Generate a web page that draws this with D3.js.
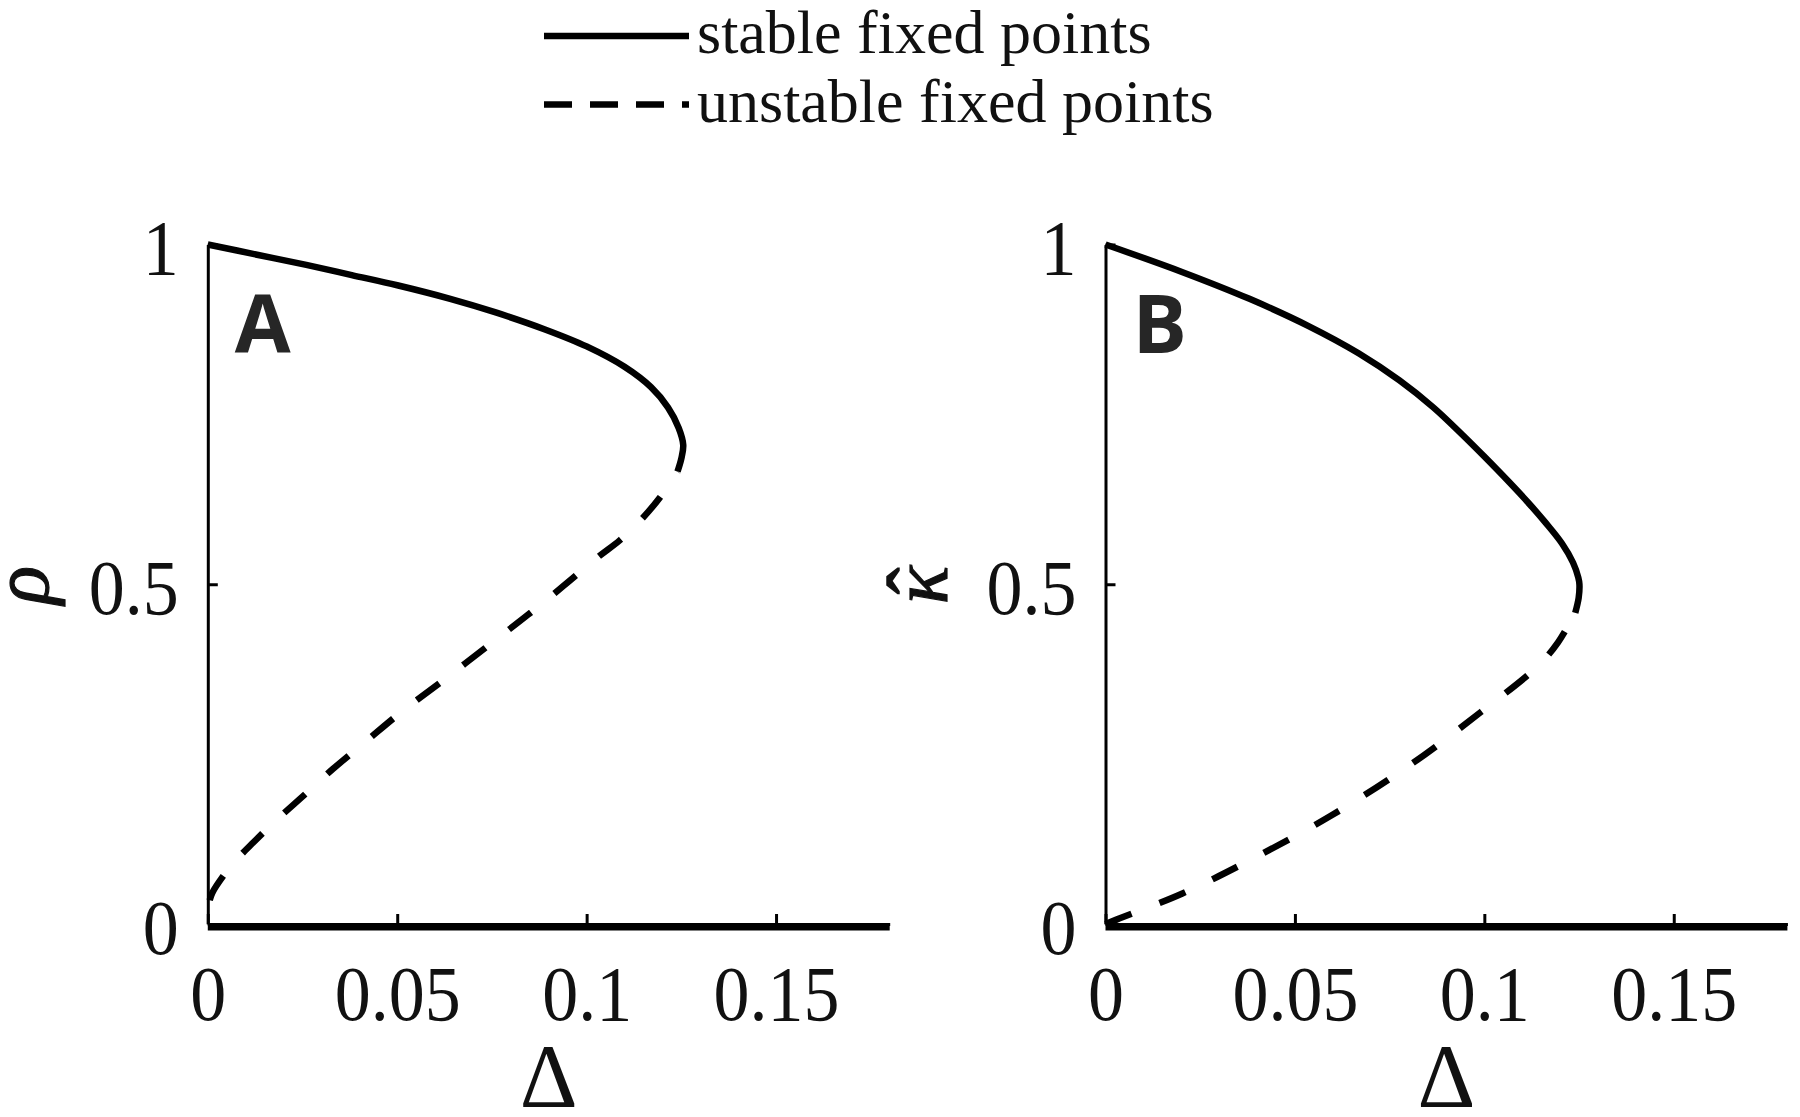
<!DOCTYPE html>
<html>
<head>
<meta charset="utf-8">
<script src="https://cdn.jsdelivr.net/npm/d3@7"></script>
<style>
  html, body { margin: 0; padding: 0; background: #fff; }
  svg { display: block; }
</style>
</head>
<body>
<svg id="chart" width="1800" height="1117"></svg>
<script>
// ---------------- DATA ----------------
const xTicks = [0, 0.05, 0.1, 0.15];
const xTickLabels = ["0", "0.05", "0.1", "0.15"];
const yTicks = [0, 0.5, 1];
const yTickLabels = ["0", "0.5", "1"];
const xDomain = [0, 0.18];
const yDomain = [0, 1];

const legendLabels = ["stable fixed points", "unstable fixed points"];
const panelLetters = ["A", "B"];
const yAxisLabels = ["\u03C1", "\u03BA"];
const yAxisHats = [null, "\u02C6"];
const xAxisLabel = "\u0394";

// Panel A : rho vs Delta
const stableA_delta = [0, 0.013, 0.026, 0.038, 0.050, 0.064, 0.076, 0.089, 0.100, 0.110, 0.117, 0.1215, 0.1243, 0.1255, 0.1250, 0.1240];
const stableA_rho   = [1, 0.985, 0.970, 0.955, 0.940, 0.920, 0.900, 0.875, 0.850, 0.820, 0.790, 0.760, 0.730, 0.705, 0.685, 0.666];
const unstableA_delta = [0.0005, 0.0012, 0.004, 0.0073, 0.012, 0.0179, 0.0255, 0.033, 0.042, 0.0512, 0.0625, 0.0750, 0.0845, 0.0940, 0.1030, 0.1088, 0.1147, 0.1194, 0.1240];
const unstableA_rho   = [0.035, 0.046, 0.070, 0.093, 0.120, 0.152, 0.190, 0.228, 0.270, 0.3125, 0.360, 0.414, 0.455, 0.498, 0.540, 0.565, 0.597, 0.628, 0.666];

// Panel B : kappa-hat vs Delta
const stableB_delta = [0, 0.020, 0.038, 0.0536, 0.0668, 0.0776, 0.0866, 0.0942, 0.0998, 0.1066, 0.1116, 0.1161, 0.1205, 0.1234, 0.1248, 0.1251, 0.1249, 0.1240];
const stableB_kappa = [1, 0.96, 0.92, 0.88, 0.84, 0.80, 0.76, 0.72, 0.689, 0.65, 0.62, 0.591, 0.56, 0.532, 0.51, 0.50, 0.48, 0.458];
const unstableB_delta = [0, 0.0036, 0.0203, 0.0385, 0.0597, 0.0809, 0.0991, 0.1142, 0.1195, 0.1240];
const unstableB_kappa = [0, 0.008, 0.045, 0.095, 0.160, 0.236, 0.312, 0.380, 0.415, 0.458];

// zero branch (stable fixed point at 0)
const zeroDelta = [0, 0.18];
const zeroValue = [0, 0];

// ---------------- DRAWING ----------------
const svg = d3.select("#chart");
const serif = "'Liberation Serif', 'Times New Roman', serif";

const panels = [
  { left: 207.8, right: 889.7, letter: panelLetters[0], ylab: yAxisLabels[0], hat: yAxisHats[0], ylabX: 48,
    stable: [stableA_delta, stableA_rho], unstable: [unstableA_delta, unstableA_rho] },
  { left: 1105.5, right: 1787.4, letter: panelLetters[1], ylab: yAxisLabels[1], hat: yAxisHats[1], ylabX: 947,
    stable: [stableB_delta, stableB_kappa], unstable: [unstableB_delta, unstableB_kappa] }
];
const plotTop = 244.5, plotBottom = 924;

const zip = (a, b) => a.map((v, i) => [v, b[i]]);

panels.forEach(p => {
  const x = d3.scaleLinear().domain(xDomain).range([p.left, p.right]);
  const y = d3.scaleLinear().domain(yDomain).range([plotBottom, plotTop]);
  const g = svg.append("g");

  // x axis
  const xAxis = d3.axisBottom(x).tickValues(xTicks)
    .tickFormat((d, i) => xTickLabels[i]).tickSizeInner(-10).tickSizeOuter(0);
  const gx = g.append("g").attr("transform", `translate(0,${plotBottom})`).call(xAxis);
  gx.select(".domain").attr("stroke", "#000").attr("stroke-width", 3);
  gx.selectAll(".tick line").attr("stroke", "#000").attr("stroke-width", 3);
  gx.selectAll(".tick text").attr("y", 0).attr("dy", 0)
    .attr("transform", "translate(0,96) scale(1,1.09)")
    .attr("font-family", serif).attr("font-size", 72).attr("fill", "#111");

  // y axis
  const yAxis = d3.axisLeft(y).tickValues(yTicks)
    .tickFormat((d, i) => yTickLabels[i]).tickSizeInner(-10).tickSizeOuter(0);
  const gy = g.append("g").attr("transform", `translate(${p.left},0)`).call(yAxis);
  gy.select(".domain").attr("stroke", "#000").attr("stroke-width", 3);
  gy.selectAll(".tick line").attr("stroke", "#000").attr("stroke-width", 3);
  gy.selectAll(".tick text").attr("x", 0).attr("y", 0).attr("dy", 0)
    .attr("transform", "translate(-29,29) scale(1,1.09)")
    .attr("font-family", serif).attr("font-size", 72).attr("fill", "#111");

  const line = d3.line().x(d => x(d[0])).y(d => y(d[1])).curve(d3.curveCatmullRom.alpha(0.5));

  // zero stable branch
  g.append("path").datum(zip(zeroDelta, zeroValue))
    .attr("d", d3.line().x(d => x(d[0])).y(d => y(d[1])))
    .attr("fill", "none").attr("stroke", "#000").attr("stroke-width", 7)
    .attr("transform", "translate(0,3)");

  // unstable
  g.append("path").datum(zip(p.unstable[0], p.unstable[1]))
    .attr("d", line).attr("fill", "none").attr("stroke", "#000")
    .attr("stroke-width", 6.5).attr("stroke-dasharray", "28,30");

  // stable
  g.append("path").datum(zip(p.stable[0], p.stable[1]))
    .attr("d", line).attr("fill", "none").attr("stroke", "#000")
    .attr("stroke-width", 6.5);

  // panel letter
  g.append("text").attr("x", p.left + 27).attr("y", 353)
    .attr("font-family", "'Open Sans', sans-serif").attr("font-weight", 700)
    .attr("font-size", 81).attr("fill", "#262626").text(p.letter);

  // y label
  const yl = g.append("g").attr("transform", `translate(${p.ylabX},585) rotate(-90)`);
  yl.append("text")
    .attr("text-anchor", "middle").attr("font-family", serif)
    .attr("font-style", "italic").attr("font-size", 80).attr("fill", "#111")
    .attr("stroke", "#111").attr("stroke-width", 1.2)
    .text(p.ylab);
  if (p.hat) {
    yl.append("text").attr("x", 4).attr("y", -4)
      .attr("text-anchor", "middle").attr("font-family", serif)
      .attr("font-size", 80).attr("fill", "#111")
      .attr("stroke", "#111").attr("stroke-width", 1.5)
      .text(p.hat);
  }

  // x label
  g.append("text").attr("x", (p.left + p.right) / 2).attr("y", 1107)
    .attr("text-anchor", "middle").attr("font-family", serif)
    .attr("font-size", 90).attr("fill", "#111").text(xAxisLabel);
});

// legend
const legY = [36, 104.5];
const legBase = [53, 122];
const legDash = [null, "28,18"];
legendLabels.forEach((lab, i) => {
  const l = svg.append("line").attr("x1", 544).attr("x2", 689)
    .attr("y1", legY[i]).attr("y2", legY[i])
    .attr("stroke", "#000").attr("stroke-width", 6.5);
  if (legDash[i]) l.attr("stroke-dasharray", legDash[i]);
  svg.append("text").attr("x", 697).attr("y", legBase[i])
    .attr("font-family", serif).attr("font-size", 62).attr("fill", "#111").text(lab);
});
</script>
</body>
</html>
